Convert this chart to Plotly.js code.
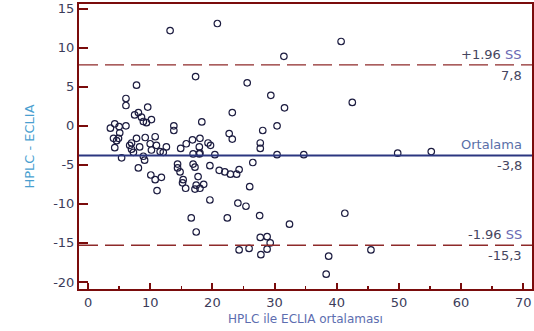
<!DOCTYPE html>
<html>
<head>
<meta charset="utf-8">
<script src="https://cdn.plot.ly/plotly-3.0.1.min.js"></script>
<style>html,body{margin:0;padding:0;background:#fff;}#chart{width:534px;height:331px;}</style>
</head>
<body>
<div id="chart"></div>
<script>
// Mean of the two methods (x) and their difference HPLC - ECLIA (y)
const meanValues = [
  3.6, 4.3, 5.0, 6.1, 5.1, 4.1, 4.9, 4.6, 4.3, 5.4,
  6.1, 6.1, 7.8, 9.6, 7.5, 8.1, 8.6, 8.9, 10.2, 9.4,
  6.7, 7.0, 7.3, 7.8, 9.2, 10.8, 8.3, 10.0, 11.0, 10.2,
  11.6, 12.6, 12.1, 8.9, 9.1, 8.1, 10.1, 10.8, 11.8, 11.1,
  13.8, 13.8, 14.4, 14.4, 7.0, 13.2, 14.8, 15.3, 15.2, 15.7,
  16.9, 17.9, 20.4, 16.9, 17.2, 19.6, 17.7, 17.2, 18.0, 18.6,
  17.4, 19.6, 16.6, 17.4, 21.1, 22.0, 22.9, 23.9, 24.3, 26.5,
  26.0, 24.1, 25.4, 22.4, 27.6, 32.4, 27.7, 28.8, 29.3, 28.8,
  25.9, 24.3, 27.8, 38.7, 38.3, 41.3, 45.5, 49.8, 55.2, 42.5,
  30.4, 34.7, 20.8, 40.7, 31.5, 17.3, 25.6, 29.4, 31.6, 23.2,
  18.3, 30.4, 28.1, 22.7, 23.2, 27.7, 27.7, 18.0, 16.8, 15.8,
  14.9, 17.9, 19.3, 19.7, 18.0
];
const diffValues = [
  -0.3, 0.25, -0.1, 0.0, -0.9, -1.6, -1.6, -1.9, -2.8, -4.1,
  3.5, 2.6, 5.2, 2.4, 1.4, 1.7, 1.1, 0.55, 0.8, 0.4,
  -2.5, -2.2, -3.4, -1.6, -1.5, -1.4, -2.7, -2.3, -2.5, -3.1,
  -3.3, -2.7, -3.4, -3.9, -4.4, -5.4, -6.3, -6.9, -6.6, -8.3,
  0.0, -0.6, -4.9, -5.4, -3.0, 12.2, -5.9, -6.9, -7.3, -8.0,
  -3.6, -3.6, -3.7, -4.9, -5.3, -5.1, -6.5, -8.1, -8.0, -7.5,
  -7.6, -9.5, -11.8, -13.6, -5.7, -5.9, -6.2, -6.2, -5.6, -4.7,
  -7.8, -9.9, -10.3, -11.8, -11.5, -12.6, -14.3, -14.2, -15.0, -15.8,
  -15.7, -15.9, -16.5, -16.7, -19.0, -11.2, -15.9, -3.5, -3.3, 3.0,
  -3.7, -3.7, 13.1, 10.8, 8.9, 6.3, 5.5, 3.9, 2.3, 1.7,
  0.5, 0.0, -0.6, -1.0, -1.7, -2.2, -2.9, -1.6, -1.8, -2.3,
  -2.9, -2.7, -2.2, -2.5, -3.5
];
// Reference lines: +1.96 SD, mean, -1.96 SD
const refValues = [7.8, -3.8, -15.3];
const refLabels = ['+1.96 ', 'Ortalama', '-1.96 '];
const refValueLabels = ['7,8', '-3,8', '-15,3'];
const xTicks = [0, 10, 20, 30, 40, 50, 60, 70];
const yTicks = [-20, -15, -10, -5, 0, 5, 10, 15];

const axisRed = '#7a0c0c';
const font = 'DejaVu Sans, Arial, sans-serif';

const trace = {
  x: meanValues, y: diffValues, type: 'scatter', mode: 'markers',
  marker: {symbol: 'circle-open', size: 6.5, color: '#1c1c40', line: {width: 1.2, color: '#1c1c40'}},
  hoverinfo: 'x+y'
};

const shapes = refValues.map((v, i) => ({
  type: 'line', xref: 'paper', x0: 0, x1: 1, yref: 'y', y0: v, y1: v,
  line: i === 1 ? {color: '#2b3680', width: 1.8} : {color: '#8e2a2a', width: 1.3, dash: '19px,7px'}
}));

const annotations = [];
refValues.forEach((v, i) => {
  const txt = i === 1 ? '<span style="color:#5a6fa8">Ortalama</span>'
                      : refLabels[i] + '<span style="color:#6a6ab4">SS</span>';
  annotations.push({xref: 'paper', x: 0.983, yref: 'y', y: v, xanchor: 'right', yanchor: 'bottom',
    yshift: 1, showarrow: false, text: txt, font: {family: font, size: 13, color: '#454560'}});
  annotations.push({xref: 'paper', x: 0.983, yref: 'y', y: v, xanchor: 'right', yanchor: 'top',
    yshift: -1, showarrow: false, text: refValueLabels[i], font: {family: font, size: 13, color: '#454560'}});
});

const layout = {
  width: 534, height: 331,
  margin: {l: 79, r: 2, t: 4, b: 42},
  paper_bgcolor: '#ffffff', plot_bgcolor: '#ffffff',
  showlegend: false,
  font: {family: font, size: 13, color: '#3c3c5a'},
  xaxis: {
    range: [-1.45, 71.4], tickvals: xTicks, ticktext: xTicks.map(String),
    showgrid: false, zeroline: false,
    showline: true, linecolor: axisRed, linewidth: 2, mirror: true,
    ticks: 'inside', ticklen: 6, tickwidth: 2, tickcolor: axisRed,
    minor: {ticks: 'inside', ticklen: 3, tickwidth: 1.5, tickcolor: axisRed, dtick: 5, tick0: 5, showgrid: false},
    tickfont: {family: font, size: 13, color: '#3c3c5a'},
    title: {text: 'HPLC ile ECLIA ortalaması', font: {family: font, size: 12, color: '#5d6db0'}, standoff: 6}
  },
  yaxis: {
    range: [-20.9, 15.6], tickvals: yTicks, ticktext: yTicks.map(String),
    showgrid: false, zeroline: false,
    showline: true, linecolor: axisRed, linewidth: 2, mirror: true,
    ticks: 'inside', ticklen: 9, tickwidth: 2, tickcolor: axisRed,
    tickfont: {family: font, size: 13, color: '#3c3c5a'},
    title: {text: 'HPLC - ECLIA', font: {family: font, size: 13, color: '#4a9fd0'}, standoff: 16}
  },
  shapes: shapes,
  annotations: annotations
};

Plotly.newPlot('chart', [trace], layout, {displayModeBar: false, staticPlot: true});
</script>
</body>
</html>
